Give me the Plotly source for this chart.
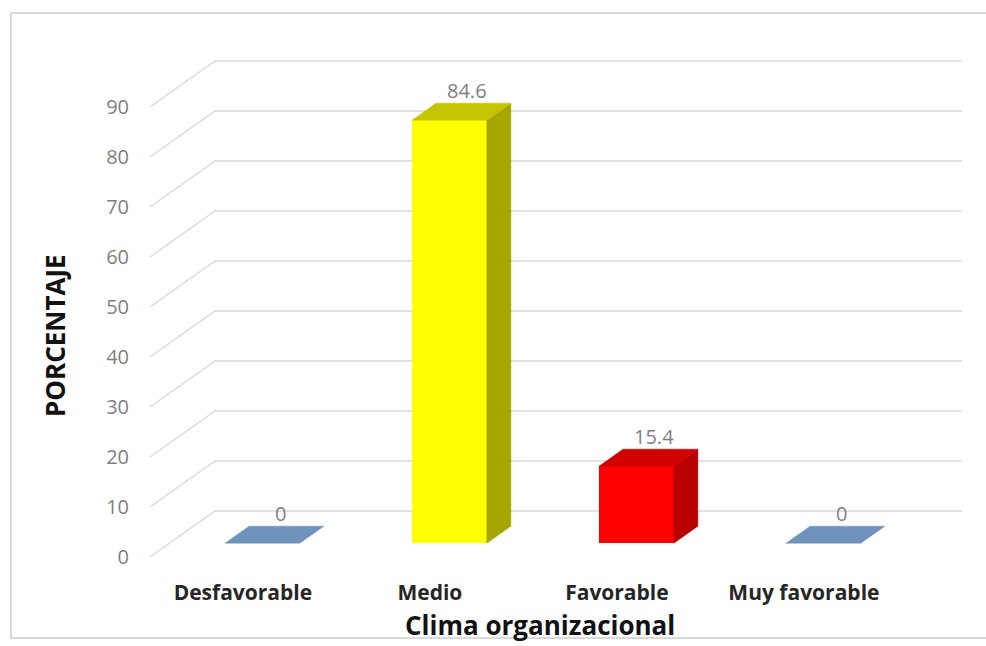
import plotly.graph_objects as go

# ---- data ----
categories = ["Desfavorable", "Medio", "Favorable", "Muy favorable"]
values = [0, 84.6, 15.4, 0]
value_labels = ["0", "84.6", "15.4", "0"]
y_ticks = [0, 10, 20, 30, 40, 50, 60, 70, 80, 90]

# ---- styles ----
front_colors = ["#7093BC", "#FFFF00", "#FF0000", "#7093BC"]
top_colors = ["#7093BC", "#C4C400", "#D20000", "#7093BC"]
side_colors = ["#5E7FA6", "#A6A600", "#B80000", "#5E7FA6"]

# ---- 3D projection geometry (depth -> offset in axis units) ----
DX = 65 / 187.0   # x shift per full depth (category units)
DY = 46 / 5.0     # y shift per full depth (value units)
D0, D1 = 0.30, 0.67  # bar front / back depth
HW = 0.20            # half width of bar


def proj(x, v, d):
    return x + d * DX, v + d * DY


# plot-area pixel mapping
L, R, T, B = 138, 975, 30, 578
PX0, PY0, SX, SY = 242.9, 557.0, 187.0, 5.0
xr = [(L - PX0) / SX, (R - PX0) / SX]
yr = [(PY0 - B) / SY, (PY0 - T) / SY]
XL = (150 - PX0) / SX
XR = (962 - PX0) / SX

fig = go.Figure()

# back wall gridlines + floor diagonals (drawn below all traces)
for v in y_ticks:
    fig.add_shape(type="path", xref="x", yref="y", layer="below",
                  path="M %f,%f L %f,%f L %f,%f" % (XL, v, XL + DX, v + DY, XR, v + DY),
                  line=dict(color="#D9D9D9", width=1.4))

# bars: side and top faces
for i, v in enumerate(values):
    if v > 0:
        pts = [proj(i + HW, 0, D0), proj(i + HW, 0, D1), proj(i + HW, v, D1), proj(i + HW, v, D0)]
        fig.add_trace(go.Scatter(
            x=[p[0] for p in pts] + [pts[0][0]], y=[p[1] for p in pts] + [pts[0][1]],
            mode="lines", fill="toself", fillcolor=side_colors[i],
            line=dict(color=side_colors[i], width=0.5), hoverinfo="skip", showlegend=False))
    pts = [proj(i - HW, v, D0), proj(i + HW, v, D0), proj(i + HW, v, D1), proj(i - HW, v, D1)]
    fig.add_trace(go.Scatter(
        x=[p[0] for p in pts] + [pts[0][0]], y=[p[1] for p in pts] + [pts[0][1]],
        mode="lines", fill="toself", fillcolor=top_colors[i],
        line=dict(color=top_colors[i], width=0.5), hoverinfo="skip", showlegend=False))

# front faces as real bars
fig.add_trace(go.Bar(
    x=[i + D0 * DX for i in range(len(values))], y=values, base=D0 * DY,
    width=2 * HW, marker=dict(color=front_colors, line=dict(width=0)),
    hoverinfo="skip", showlegend=False))

# value labels
for i, v in enumerate(values):
    x, _ = proj(i + 0.03, v, (D0 + D1) / 2)
    _, yb = proj(i, v, D1)
    fig.add_annotation(x=x, y=yb, text=value_labels[i], showarrow=False,
                       yanchor="middle", yshift=13,
                       font=dict(family="Open Sans", size=20, color="#7F7F7F"))

fig.add_annotation(xref="paper", yref="paper", x=(540 - L) / (R - L), y=(B - 625) / (B - T),
                   text="<b>Clima organizacional</b>", showarrow=False,
                   xanchor="center", yanchor="middle",
                   font=dict(family="Open Sans", size=26, color="#111111"))
fig.add_annotation(xref="paper", yref="paper", x=(55 - L) / (R - L), y=(B - 336) / (B - T),
                   text="<b>PORCENTAJE</b>", showarrow=False, textangle=-90,
                   xanchor="center", yanchor="middle",
                   font=dict(family="Open Sans", size=26, color="#111111"))

# chart frame
fig.add_shape(type="rect", xref="paper", yref="paper",
              x0=(11 - L) / (R - L), x1=(990 - L) / (R - L),
              y0=(B - 638) / (B - T), y1=(B - 13) / (B - T),
              line=dict(color="#D9D9D9", width=2), layer="below")

fig.update_layout(
    width=986, height=646, autosize=False,
    margin=dict(l=L, r=986 - R, t=T, b=646 - B),
    paper_bgcolor="white", plot_bgcolor="white",
    hovermode=False, bargap=0,
    xaxis=dict(range=xr, tickvals=list(range(len(categories))),
               ticktext=["<b>%s</b>" % c for c in categories],
               showgrid=False, zeroline=False, showline=False, ticks="",
               ticklabelstandoff=0,
               tickfont=dict(family="Open Sans", size=21, color="#262626")),
    yaxis=dict(range=yr, tickvals=y_ticks, showgrid=False, zeroline=False,
               showline=False, ticks="", ticklabelstandoff=8,
               tickfont=dict(family="Open Sans", size=20, color="#7F7F7F")),
)

fig.write_html("out.html")
